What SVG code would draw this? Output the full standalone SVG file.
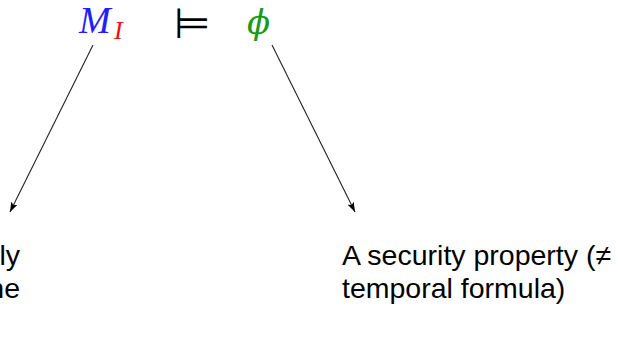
<svg xmlns="http://www.w3.org/2000/svg" width="618" height="353" viewBox="0 0 618 353">
<style>
.lbl{font-family:"Liberation Sans",Arial,sans-serif;font-size:28.5px;fill:#000}
.math{font-family:"Liberation Serif","DejaVu Serif",serif;font-style:italic}
.conn{stroke:#222;stroke-width:1.1;fill:none}
</style>
<defs>
<marker id="ah" markerUnits="userSpaceOnUse" markerWidth="12" markerHeight="8" refX="10" refY="3.5" orient="auto">
<path d="M0,0 L10,3.5 L0,7 L2.5,3.5 z" fill="#000"/>
</marker>
</defs>
<rect width="618" height="353" fill="#fff"/>
<g id="formula">
<text class="math" x="79" y="33" font-size="38" fill="#1f1fff">M</text>
<text class="math" x="114" y="39" font-size="26" fill="#ee1111">I</text>
<text x="174" y="38" font-family="DejaVu Sans,sans-serif" font-size="42" fill="#000">⊨</text>
<text x="247" y="34" font-family="DejaVu Serif,serif" font-style="italic" font-size="34" fill="#1a9a1a">ϕ</text>
</g>
<g id="connectors">
<line class="conn" x1="93" y1="45" x2="10" y2="212" marker-end="url(#ah)"/>
<line class="conn" x1="272" y1="45" x2="355" y2="212" marker-end="url(#ah)"/>
</g>
<g id="left-label">
<text class="lbl" x="20" y="265" text-anchor="end">ly</text>
<text class="lbl" x="20" y="298" text-anchor="end">he</text>
</g>
<g id="right-label">
<text class="lbl" x="342" y="265">A security property (≠</text>
<text class="lbl" x="342" y="298">temporal formula)</text>
</g>
</svg>
